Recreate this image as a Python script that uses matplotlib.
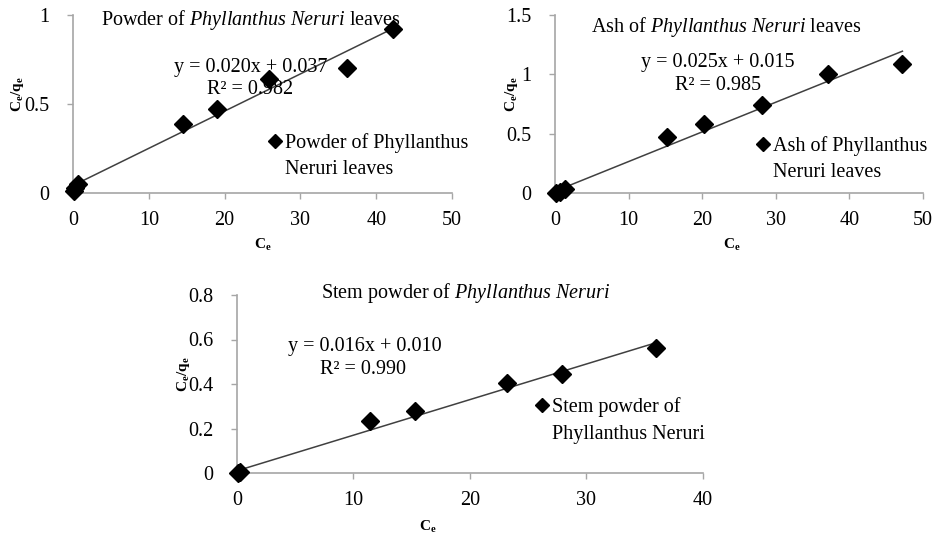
import numpy as np
import matplotlib
matplotlib.use('Agg')
import matplotlib.pyplot as plt
from matplotlib.lines import Line2D

plt.rcParams['font.family'] = ['Liberation Serif', 'DejaVu Serif']
plt.rcParams['mathtext.fontset'] = 'custom'
plt.rcParams['mathtext.rm'] = 'Liberation Serif'
plt.rcParams['mathtext.it'] = 'Liberation Serif:italic'
plt.rcParams['mathtext.bf'] = 'Liberation Serif:bold'

# data
leaf_ce = [0.1, 0.3, 0.6, 14.5, 19.0, 25.8, 36.2, 42.2]
leaf_cq = [0.01, 0.03, 0.05, 0.39, 0.47, 0.64, 0.70, 0.92]
leaf_fit = (0.0209, 0.042)

ash_ce = [0.1, 0.7, 1.4, 15.2, 20.3, 28.1, 37.1, 47.2]
ash_cq = [0.0, 0.01, 0.03, 0.47, 0.58, 0.74, 1.00, 1.09]
ash_fit = (0.025, 0.015)

stem_ce = [0.1, 0.3, 11.4, 15.3, 23.2, 27.9, 36.0]
stem_cq = [0.0, 0.005, 0.235, 0.28, 0.405, 0.445, 0.56]
stem_fit = (0.016, 0.010)

W, H = 934, 539
fig = plt.figure(figsize=(W / 100, H / 100), dpi=100)
FS = 14.5
GREY = '#a6a6a6'


def fx(x):
    return x / W


def fy(y):
    return 1 - y / H


def panel(box, ce, cq, fit, ylim, yticks, xlim, xticks, title, eq, r2, leg, ylab_x, xlab_xy):
    l, t, r, b = box
    ax = fig.add_axes([fx(l), fy(b), fx(r - l), (b - t) / H])
    ax.plot(ce, cq, 'D', color='black', markersize=9.5, zorder=3, clip_on=False)
    xs = np.array([min(ce), max(ce)])
    ax.plot(xs, fit[0] * xs + fit[1], color='#404040', lw=1.1, zorder=2)
    ax.set_xlim(*xlim)
    ax.set_ylim(*ylim)
    ax.set_xticks(xticks)
    ax.set_yticks(yticks)
    ax.set_xticklabels([f'{v:g}' for v in xticks])
    ax.set_yticklabels([f'{v:g}' for v in yticks])
    for s in ['top', 'right']:
        ax.spines[s].set_visible(False)
    for s in ['left', 'bottom']:
        ax.spines[s].set_color(GREY)
        ax.spines[s].set_linewidth(1.2)
    ax.tick_params(labelsize=FS, colors=GREY, labelcolor='black', length=4, width=1)
    ax.tick_params(axis='x', pad=9)
    ax.tick_params(axis='y', pad=13)
    # titles and equations
    fig.text(fx(title[0]), fy(title[1]), title[2], fontsize=FS, ha='center', va='center')
    fig.text(fx(eq[0]), fy(eq[1]), eq[2], fontsize=FS, ha='center', va='center')
    fig.text(fx(r2[0]), fy(r2[1]), r2[2], fontsize=FS, ha='center', va='center')
    # legend: marker with first line, second line below
    h = Line2D([], [], marker='D', color='black', ls='none', markersize=7)
    fig.legend([h], [leg[2]], loc='center left', frameon=False, fontsize=FS,
               bbox_to_anchor=(fx(leg[0] - 6), fy(leg[1])), borderpad=0,
               borderaxespad=0, handlelength=0.6, handletextpad=0.2)
    fig.text(fx(leg[0] + 10), fy(leg[1] + 27), leg[3], fontsize=FS, ha='left', va='center')
    fig.text(fx(ylab_x), fy((t + b) / 2 - 10), r'$\mathbf{C_e/q_e}$', fontsize=11,
             rotation=90, ha='center', va='center')
    fig.text(fx(xlab_xy[0]), fy(xlab_xy[1]), r'$\mathbf{C_e}$', fontsize=11,
             ha='center', va='center')
    return ax


panel((73, 15, 452, 193), leaf_ce, leaf_cq, leaf_fit, (0, 1), [0, 0.5, 1],
      (0, 50), [0, 10, 20, 30, 40, 50],
      (251, 20, r'Powder of $\it{Phyllanthus\ Neruri}$ leaves'),
      (251, 67, 'y = 0.020x + 0.037'), (250, 90, 'R² = 0.982'),
      (275, 143, 'Powder of Phyllanthus', 'Neruri leaves'), 17, (263, 245))

panel((555, 15, 923, 193), ash_ce, ash_cq, ash_fit, (0, 1.5), [0, 0.5, 1, 1.5],
      (0, 50), [0, 10, 20, 30, 40, 50],
      (726, 27, r'Ash of $\it{Phyllanthus\ Neruri}$ leaves'),
      (718, 62, 'y = 0.025x + 0.015'), (718, 86, 'R² = 0.985'),
      (763, 146, 'Ash of Phyllanthus', 'Neruri leaves'), 512, (732, 245))

panel((237, 295, 703, 473), stem_ce, stem_cq, stem_fit, (0, 0.8), [0, 0.2, 0.4, 0.6, 0.8],
      (0, 40), [0, 10, 20, 30, 40],
      (466, 293, r'Stem powder of $\it{Phyllanthus\ Neruri}$'),
      (365, 346, 'y = 0.016x + 0.010'), (363, 369, 'R² = 0.990'),
      (542, 407, 'Stem powder of', 'Phyllanthus Neruri'), 184, (428, 527))

fig.savefig('out.png', dpi=100)
